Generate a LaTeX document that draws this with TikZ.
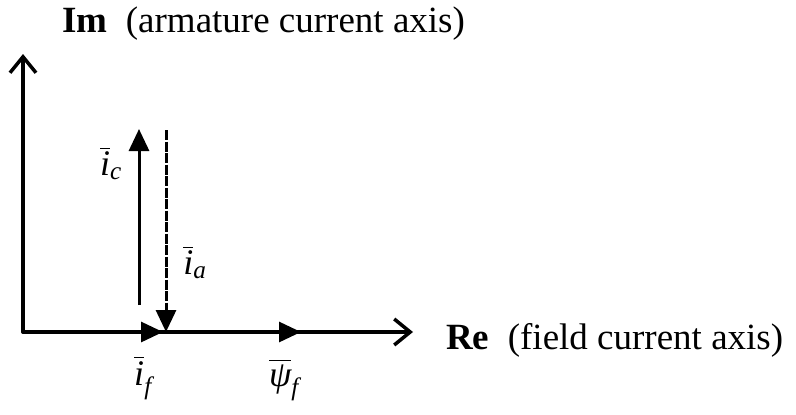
\documentclass[tikz,border=0pt]{standalone}
\usepackage{amsmath}
\usepackage{fontspec}
\setmainfont{Liberation Serif}
\usetikzlibrary{arrows.meta}
\newcommand{\vb}[2]{$\overline{\textit{#1}\vphantom{l}}_{\textit{#2}}$}
\begin{document}
\begin{tikzpicture}[x=1pt,y=-1pt,
  axis/.style={line width=3.5pt, line cap=round, line join=round,
    -{Straight Barb[length=16pt,width=26pt,line width=3.5pt]}},
  vec/.style={line width=3pt, -{Triangle[length=22pt,width=20pt]}},
  dvec/.style={line width=3pt, dash pattern=on 10pt off 1.5pt, -{Triangle[length=22pt,width=20pt]}},
  lab/.style={inner sep=0pt, font=\fontsize{36}{40}\selectfont},
  axlab/.style={inner sep=0pt, anchor=west, font=\fontsize{37}{42}\selectfont}]
\useasboundingbox (0,0) rectangle (796,415);
\coordinate (O) at (23,332);
\coordinate (imtop) at (23,54);
\coordinate (retip) at (413,332);
\coordinate (iftip) at (163,332);
\coordinate (psitip) at (301,332);
\coordinate (icbot) at (139,305);
\coordinate (ictop) at (139,129);
\coordinate (iatop) at (166,130);
\coordinate (iatip) at (166,332);
\draw[axis] (O) -- (imtop);
\draw[axis] (O) -- (retip);
\draw[vec] (O) -- (iftip);
\draw[vec] (iftip) -- (psitip);
\draw[vec] (icbot) -- (ictop);
\draw[dvec] (iatop) -- (iatip);
\node[axlab] (imlab) at (62,24) {\textbf{Im}\ \ (armature current axis)};
\node[axlab] (relab) at (446,340) {\textbf{Re}\ \ (field current axis)};
\node[lab] (iclab) at (111,163) {\vb{i}{c}};
\node[lab] (ialab) at (195,262) {\vb{i}{a}};
\node[lab] (iflab) at (143,378) {\vb{i}{f}};
\node[lab] (psilab) at (284,380) {\vb{ψ}{f}};
\end{tikzpicture}
\end{document}
